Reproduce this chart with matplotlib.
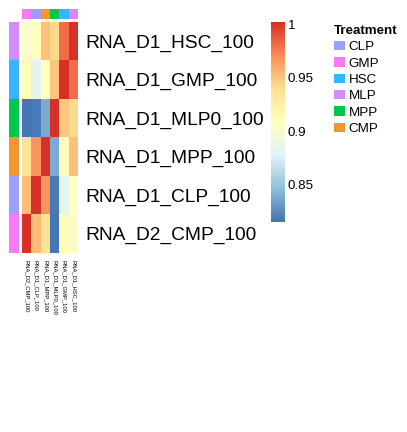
import numpy as np
import matplotlib
matplotlib.use("Agg")
import matplotlib.pyplot as plt
from matplotlib.colors import LinearSegmentedColormap, Normalize, ListedColormap
from matplotlib.patches import Patch
from matplotlib.cm import ScalarMappable
from matplotlib.transforms import ScaledTranslation

# ---- data -------------------------------------------------------------
samples = [
    "RNA_D1_HSC_100",
    "RNA_D1_GMP_100",
    "RNA_D1_MLP0_100",
    "RNA_D1_MPP_100",
    "RNA_D1_CLP_100",
    "RNA_D2_CMP_100",
]
treatment = ["MLP", "HSC", "MPP", "CMP", "CLP", "GMP"]

# correlation matrix, rows/cols in `samples` order
corr = np.array([
    [1.000, 0.978, 0.939, 0.948, 0.906, 0.902],
    [0.978, 1.000, 0.947, 0.908, 0.880, 0.910],
    [0.939, 0.947, 1.000, 0.836, 0.816, 0.813],
    [0.948, 0.908, 0.836, 1.000, 0.965, 0.934],
    [0.906, 0.880, 0.816, 0.965, 1.000, 0.951],
    [0.902, 0.910, 0.813, 0.934, 0.951, 1.000],
])

legend_order = ["CLP", "GMP", "HSC", "MLP", "MPP", "CMP"]
treatment_colors = {
    "CLP": "#9e9efe",
    "GMP": "#f57cf5",
    "HSC": "#3ab2fe",
    "MLP": "#d48cfb",
    "MPP": "#00c84c",
    "CMP": "#f4962f",
}
cbar_ticks = [0.85, 0.9, 0.95, 1.0]
cbar_ticklabels = ["0.85", "0.9", "0.95", "1"]

# ---- style ------------------------------------------------------------
plt.rcParams["font.family"] = ["Liberation Sans", "DejaVu Sans"]

palette = ["#4575B4", "#91BFDB", "#E0F3F8", "#FFFFBF", "#FEE090", "#FC8D59", "#D73027"]
cmap = LinearSegmentedColormap.from_list("rdylbu_r", palette, N=100)
norm = Normalize(vmin=corr.min(), vmax=corr.max())

W, H = 407, 432
fig = plt.figure(figsize=(W / 100, H / 100), dpi=100)
fig.patch.set_facecolor("white")


def px_axes(x0, y0, x1, y1):
    return fig.add_axes([x0 / W, 1 - y1 / H, (x1 - x0) / W, (y1 - y0) / H])


col_order = list(range(len(samples)))[::-1]
mat = corr[:, col_order]

# heatmap
ax = px_axes(22, 22, 78, 253)
ax.imshow(mat, cmap=cmap, norm=norm, aspect="auto", interpolation="nearest")
ax.set_yticks(range(len(samples)))
ax.set_yticklabels(samples, fontsize=13.8)
ax.yaxis.tick_right()
ax.set_xticks(range(len(samples)))
ax.set_xticklabels([samples[i] for i in col_order], fontsize=4.2, rotation=270)
ax.tick_params(axis="y", length=0, pad=5.5)
ax.tick_params(axis="x", length=0, pad=5)
for s in ax.spines.values():
    s.set_visible(False)

# row annotation
ax_r = px_axes(9, 22, 19, 253)
row_cols = ListedColormap([treatment_colors[t] for t in treatment])
ax_r.imshow(np.arange(len(treatment)).reshape(-1, 1), cmap=row_cols,
            aspect="auto", interpolation="nearest")
ax_r.axis("off")

# column annotation
ax_c = px_axes(22, 9, 78, 19)
col_treat = [treatment[i] for i in col_order]
col_cols = ListedColormap([treatment_colors[t] for t in col_treat])
ax_c.imshow(np.arange(len(col_treat)).reshape(1, -1), cmap=col_cols,
            aspect="auto", interpolation="nearest")
ax_c.axis("off")

# colorbar
ax_cb = px_axes(271, 22, 285, 222)
sm = ScalarMappable(norm=norm, cmap=cmap)
cb = fig.colorbar(sm, cax=ax_cb, ticks=cbar_ticks)
cb.set_ticklabels(cbar_ticklabels)
cb.outline.set_visible(False)
ax_cb.tick_params(length=0, labelsize=9.6, pad=2)
# labels sit a touch below their break in the original legend
shift = ScaledTranslation(0, -2.5 / 100, fig.dpi_scale_trans)
for lbl in ax_cb.get_yticklabels():
    lbl.set_transform(lbl.get_transform() + shift)

# legend
handles = [Patch(facecolor=treatment_colors[t], edgecolor="none", label=t)
           for t in legend_order]
leg = fig.legend(handles=handles, title="Treatment", loc="upper left",
                 bbox_to_anchor=(334 / W, 1 - 25 / H), frameon=False,
                 fontsize=9.6, title_fontproperties={"weight": "bold", "size": 9.6},
                 handlelength=0.85, handleheight=0.7, handletextpad=0.25,
                 labelspacing=0.3, borderpad=0, borderaxespad=0)
leg._legend_box.align = "left"

fig.savefig("out.png", dpi=100)
